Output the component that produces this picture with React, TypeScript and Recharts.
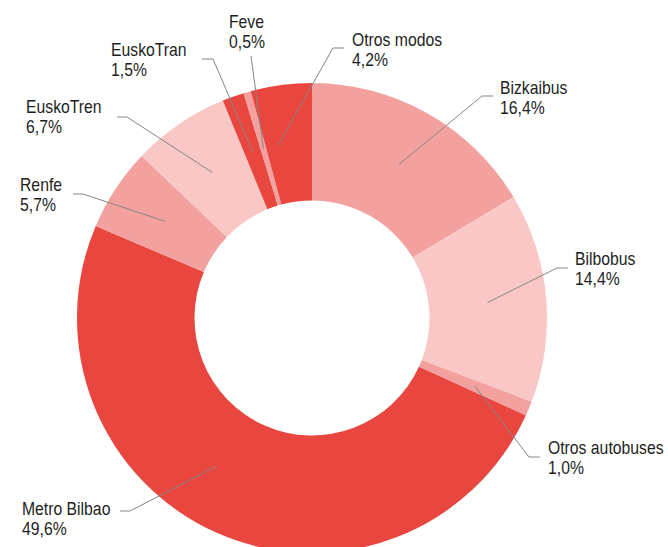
import React from "react";
import { PieChart, Pie, Cell } from "recharts";

const categories = [
  "Bizkaibus",
  "Bilbobus",
  "Otros autobuses",
  "Metro Bilbao",
  "Renfe",
  "EuskoTren",
  "EuskoTran",
  "Feve",
  "Otros modos",
];
const shares = [16.4, 14.4, 1.0, 49.6, 5.7, 6.7, 1.5, 0.5, 4.2];
const valueLabels = ["16,4%", "14,4%", "1,0%", "49,6%", "5,7%", "6,7%", "1,5%", "0,5%", "4,2%"];

const RED = "#e8463f";
const SALMON = "#f2a19e";
const LIGHT = "#f8c7c6";
const sliceColors = [SALMON, LIGHT, SALMON, RED, SALMON, LIGHT, RED, SALMON, RED];

// label layout: text x, first-line baseline y, elbow point, tail x of horizontal, leader angle shift
const labelLayout = [
  { tx: 500, ty: 94, ex: 482, ey: 96, tail: 493, shift: 0 },
  { tx: 575, ty: 265, ex: 557, ey: 268, tail: 568, shift: 0 },
  { tx: 548, ty: 454, ex: 529, ey: 457, tail: 540, shift: 0 },
  { tx: 22, ty: 515, ex: 130, ey: 511, tail: 120, shift: -9 },
  { tx: 20, ty: 191, ex: 83, ey: 194, tail: 73, shift: 0 },
  { tx: 26, ty: 113, ex: 127, ey: 117, tail: 117, shift: 0 },
  { tx: 111, ty: 56, ex: 213, ey: 59, tail: 202, shift: 0 },
  { tx: 229, ty: 28, ex: 251, ey: 56, tail: 251, shift: 0 },
  { tx: 352, ty: 46, ex: 333, ey: 48, tail: 344, shift: 3.5 },
];

const data = categories.map((name, i) => ({ name, value: shares[i] }));

const RAD = Math.PI / 180;
const FONT = "'Liberation Sans', Arial, sans-serif";

const renderLabel = (props: any) => {
  const { cx, cy, midAngle, index, innerRadius, outerRadius } = props;
  const L = labelLayout[index];
  const r = (innerRadius + outerRadius) / 2;
  const a = midAngle + L.shift;
  const px = cx + r * Math.cos(-a * RAD);
  const py = cy + r * Math.sin(-a * RAD);
  return (
    <g key={`lbl-${index}`}>
      <polyline
        points={`${px},${py} ${L.ex},${L.ey} ${L.tail},${L.ey}`}
        fill="none"
        stroke="#858585"
        strokeWidth={1}
      />
      <g transform={`translate(${L.tx},${L.ty}) scale(0.875,1)`}>
        <text x={0} y={0} fill="#1e1e1e" fontSize={18} fontFamily={FONT}>
          {categories[index]}
        </text>
        <text x={0} y={20} fill="#1e1e1e" fontSize={18} fontFamily={FONT}>
          {valueLabels[index]}
        </text>
      </g>
    </g>
  );
};

export default function App() {
  return (
    <div style={{ position: "absolute", left: 0, top: 0, width: 668, height: 547, background: "#fff" }}>
      <PieChart width={668} height={547} margin={{ top: 0, right: 0, bottom: 0, left: 0 }}>
        <Pie
          data={data}
          dataKey="value"
          nameKey="name"
          cx={312}
          cy={318}
          innerRadius={117.5}
          outerRadius={235}
          startAngle={90}
          endAngle={-270}
          stroke="none"
          isAnimationActive={false}
          labelLine={false}
          label={renderLabel}
        >
          {data.map((d, i) => (
            <Cell key={d.name} fill={sliceColors[i]} />
          ))}
        </Pie>
      </PieChart>
    </div>
  );
}
